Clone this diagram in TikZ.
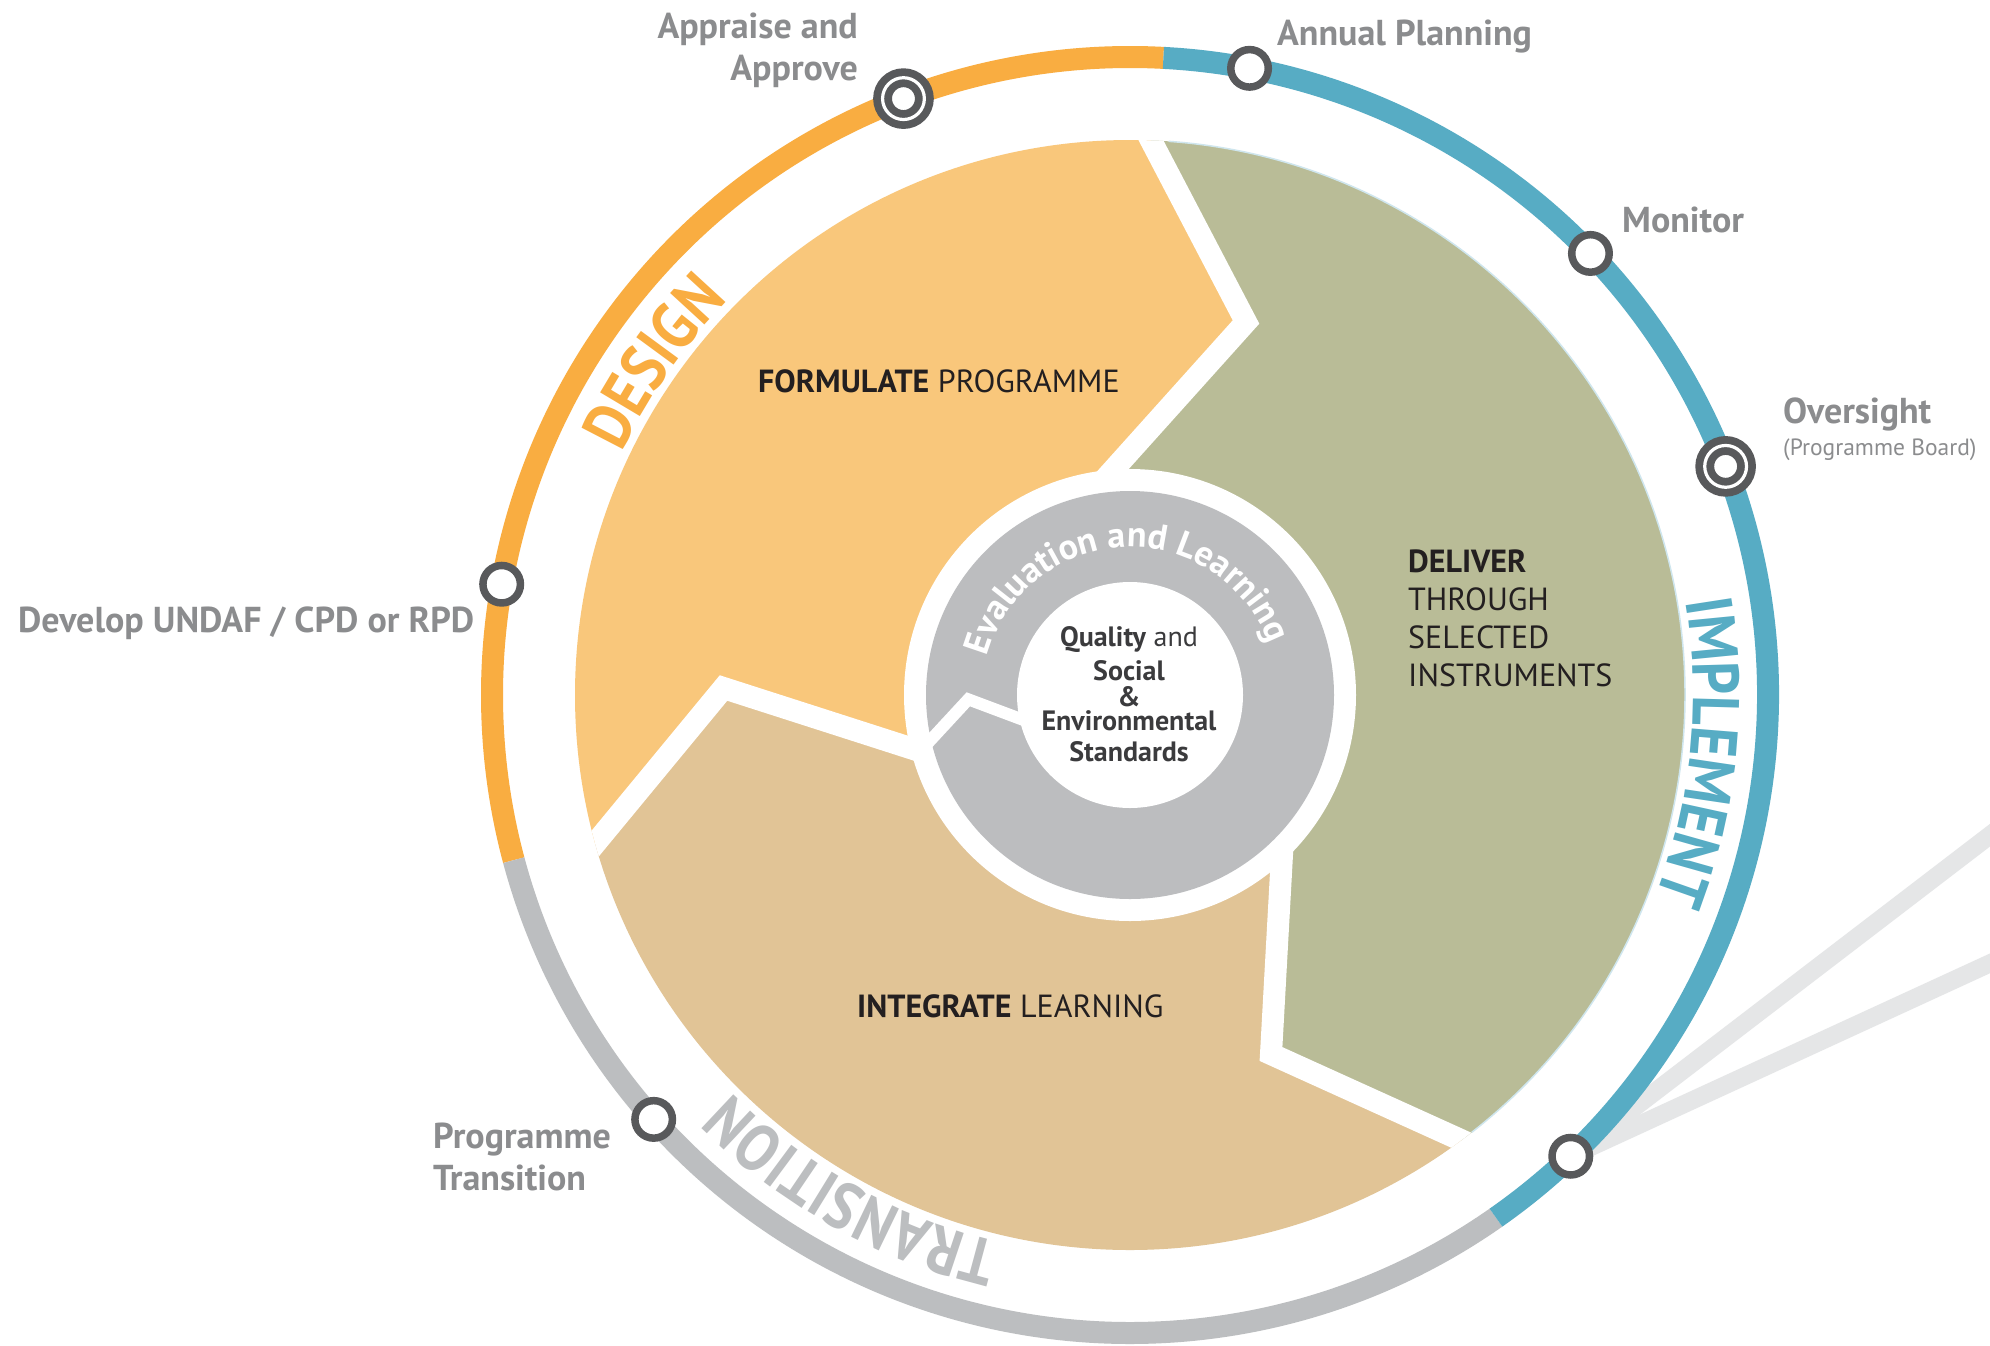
\documentclass[tikz,border=0pt]{standalone}
\usepackage{fontspec}
\setmainfont{PT Sans}
\newfontfamily\phasefont{PT Sans}[FakeStretch=0.87]
\usetikzlibrary{decorations.text}
\definecolor{ringO}{HTML}{F9AD41}
\definecolor{ringB}{HTML}{57ACC4}
\definecolor{ringG}{HTML}{BCBEC0}
\definecolor{formC}{HTML}{F9C77B}
\definecolor{delC}{HTML}{B9BC97}
\definecolor{intC}{HTML}{E1C496}
\definecolor{innerGray}{HTML}{BCBDBF}
\definecolor{nodeDark}{HTML}{58595B}
\definecolor{labGray}{HTML}{8B8C8E}
\definecolor{bandGray}{HTML}{E5E6E7}
\definecolor{textDark}{HTML}{231F20}
\definecolor{ctrDark}{HTML}{3B3B3D}
\definecolor{edgeBlue}{HTML}{CFE6EE}
\pgfdeclarelayer{bands}
\pgfsetlayers{bands,main}
\begin{document}
\begin{tikzpicture}[x=1pt,y=1pt,line join=miter,
  stn/.style={circle,draw=nodeDark,line width=7.5pt,fill=white,minimum size=37.5pt,inner sep=0pt,outer sep=0pt},
  stntwo/.style={circle,draw=nodeDark,line width=7.8pt,double=white,double distance=3.2pt,fill=white,minimum size=41.8pt,inner sep=0pt,outer sep=0pt},
  lab/.style={font=\fontsize{36}{42}\selectfont\bfseries,text=labGray,inner sep=0pt},
  seg/.style={font=\fontsize{32}{38}\selectfont,text=textDark,inner sep=0pt},
  ctr/.style={font=\fontsize{28}{26}\selectfont,text=ctrDark,inner sep=0pt},
  gapline/.style={draw=white,line width=22pt},
  band/.style={draw=bandGray,line width=18pt},
  ringarc/.style={line width=22pt}
]
\useasboundingbox (0,0) rectangle (1990,-1345);
\begin{scope}[shift={(1130,-695)}]
  \coordinate (A0) at (-8,610);
  \coordinate (A1) at (116,373);
  \coordinate (A2) at (-69,167);
  \coordinate (B0) at (386,-470);
  \coordinate (B1) at (141,-359);
  \coordinate (B2) at (156,-87);
  \coordinate (C0) at (-574,-196);
  \coordinate (C1) at (-406.5,7);
  \coordinate (C2) at (-145,-77);
  \begin{scope}
    \clip (0,0) circle (555);
    \fill[formC] (0,0) -- (A2) -- (A1) -- (A0) -- (110:900) -- (150:900) -- (190:900) -- (C0) -- (C1) -- (C2) -- cycle;
    \fill[delC] (0,0) -- (B2) -- (B1) -- (B0) -- (-40:900) -- (0:900) -- (45:900) -- (80:900) -- (A0) -- (A1) -- (A2) -- cycle;
    \fill[intC] (0,0) -- (C2) -- (C1) -- (C0) -- (220:900) -- (260:900) -- (300:900) -- (B0) -- (B1) -- (B2) -- cycle;
    \draw[gapline] (A0) -- (A1) -- (A2);
    \draw[gapline] (B0) -- (B1) -- (B2);
    \draw[gapline] (C0) -- (C1) -- (C2);
  \end{scope}
  \draw[edgeBlue,line width=1.5pt] (-52:555) arc[start angle=-52,end angle=86,radius=555];
  \fill[white] (0,0) circle (226);
  \fill[innerGray] (0,0) circle (204);
  \fill[white] (0,0) circle (113);
  \draw[white,line width=12pt] (-210.6,-57.2) -- (-161.7,-4.3) -- (-100.9,-27.1);
  \path[decorate,decoration={text along path,text align=center,text color=white,
     text={|\bfseries\fontsize{36}{36}\selectfont|Evaluation and Learning}}]
     (172.5:148) arc[start angle=172.5,end angle=12.5,radius=148];
  % outer ring
  \draw[ringarc,ringO] (87:638) arc[start angle=87,end angle=195,radius=638];
  \draw[ringarc,ringG] (195:638) arc[start angle=195,end angle=305,radius=638];
  \draw[ringarc,ringB] (305:638) arc[start angle=305,end angle=447,radius=638];
  % phase labels
  \path[decorate,decoration={text along path,text align=center,text color=ringO,
     text={|\phasefont\bfseries\fontsize{66}{66}\selectfont|DESIGN}}]
     (175:563) arc[start angle=175,end angle=115,radius=563];
  \path[decorate,decoration={text along path,text align=center,text color=ringB,
     text={|\phasefont\bfseries\fontsize{66}{66}\selectfont|IMPLEMENT}}]
     (25:563) arc[start angle=25,end angle=-36.4,radius=563];
  \path[decorate,decoration={text along path,text align=center,text color=ringG,
     text={|\phasefont\bfseries\fontsize{66}{66}\selectfont|TRANSITION}}]
     (270:563) arc[start angle=270,end angle=211.4,radius=563];
  % stations
  \node[stn] (sDev) at (170:638) {};
  \node[stntwo] (sApp) at (110.8:638) {};
  \node[stn] (sAnn) at (79.2:638) {};
  \node[stn] (sMon) at (43.8:638) {};
  \node[stntwo] (sOve) at (21:638) {};
  \node[stn] (sBR) at (-46.3:638) {};
  \node[stn] (sTra) at (221.7:638) {};
\end{scope}
% segment labels
\node[seg,anchor=base west] (tForm) at (758,-392) {\textbf{FORMULATE} PROGRAMME};
\node[seg,anchor=base west] (tInt) at (857,-1017) {\textbf{INTEGRATE} LEARNING};
\node[seg,anchor=base west,align=left] (tDel) at (1408,-686) {\textbf{DELIVER}\\THROUGH\\SELECTED\\INSTRUMENTS};
\node[ctr,anchor=base,align=center] (tCtr) at (1129,-761) {\textbf{Quality} and\\[7pt]\textbf{Social}\\\textbf{\&}\\[-2pt]\textbf{Environmental}\\[5pt]\textbf{Standards}};
% station labels
\node[lab,anchor=base east,align=right] (lApp) at (858,-80) {Appraise and\\Approve};
\node[lab,anchor=base west] (lAnn) at (1277,-45) {Annual Planning};
\node[lab,anchor=base west] (lMon) at (1622,-232) {Monitor};
\node[lab,anchor=base west] (lOve) at (1783,-423) {Oversight};
\node[inner sep=0pt,anchor=base west,text=labGray,font=\fontsize{23.5}{23.5}\selectfont] (lBoard) at (1783,-455) {(Programme Board)};
\node[lab,anchor=base west] (lDev) at (18,-632) {Develop UNDAF / CPD or RPD};
\node[lab,anchor=base west,align=left] (lTra) at (433,-1190) {Programme\\Transition};
\begin{pgfonlayer}{bands}
  \fill[white] (0,0) rectangle (1990,-1345);
  \coordinate (bandU) at (2032,-803);
  \coordinate (bandL) at (2032,-944);
  \draw[band] (sBR.center) -- (bandU);
  \draw[band] (sBR.center) -- (bandL);
\end{pgfonlayer}
\end{tikzpicture}
\end{document}
